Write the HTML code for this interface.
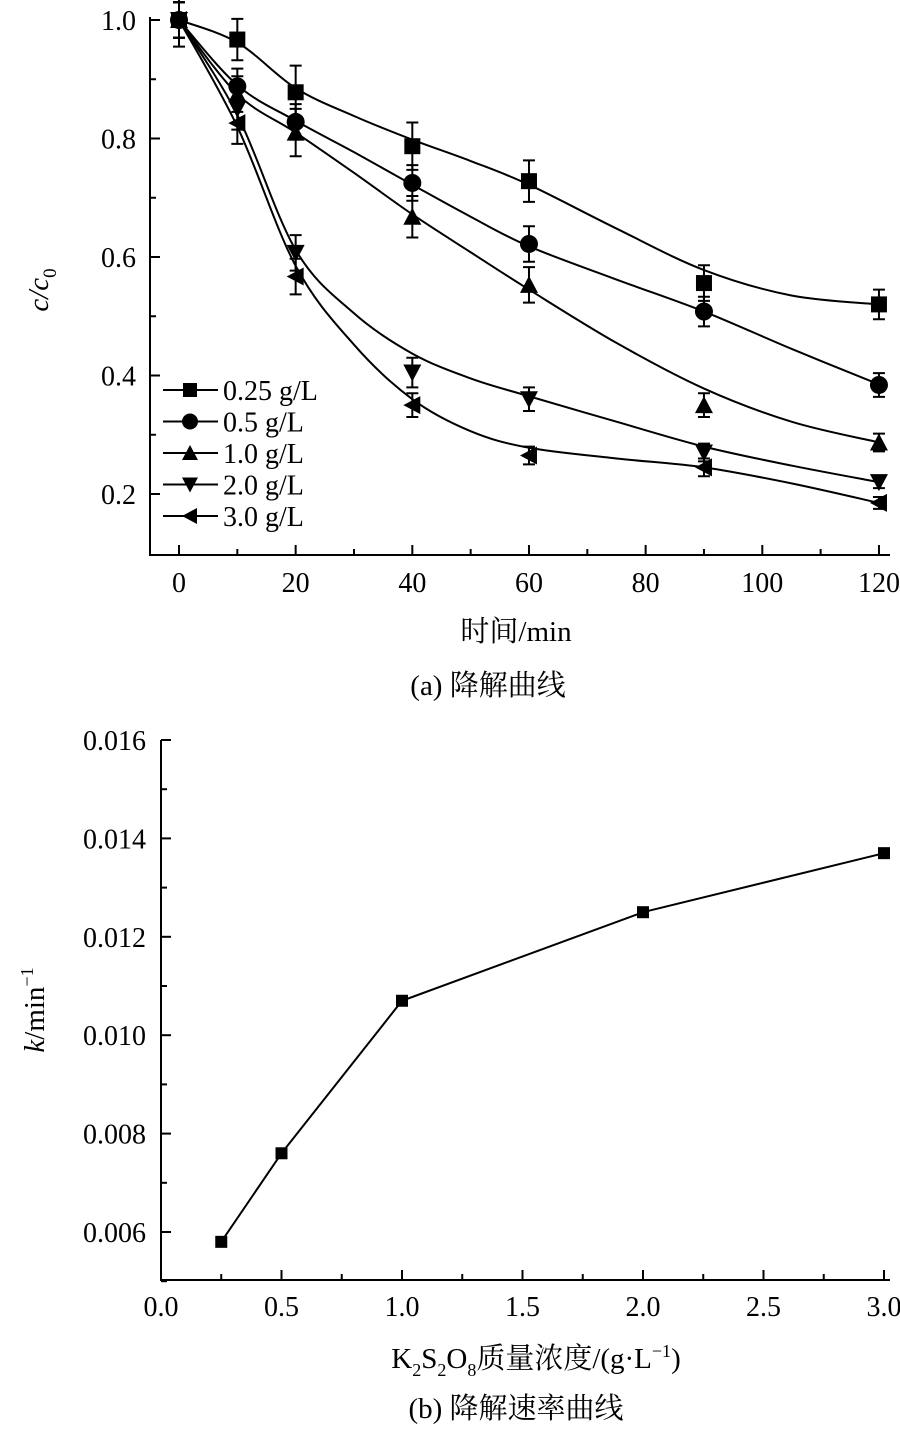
<!DOCTYPE html>
<html><head><meta charset="utf-8"><style>
html,body{margin:0;padding:0;background:#fff;}
svg{display:block;font-family:"Liberation Serif","Noto Serif CJK SC",serif;}
</style></head><body>
<svg id="s" width="900" height="1436" viewBox="0 0 900 1436" xmlns="http://www.w3.org/2000/svg">
<g id="g" stroke="#000" stroke-width="2" fill="none"></g>
<g id="t" fill="#000" font-size="28"></g>
<text x="48" y="290" font-size="29" font-style="italic" transform="rotate(-90 48 290)" text-anchor="middle">c/c<tspan font-style="normal" font-size="19" dy="8">0</tspan></text>
<text x="516" y="641" font-size="29" text-anchor="middle">时间/min</text>
<text x="488" y="695" font-size="29" text-anchor="middle">(a) 降解曲线</text>
<text x="44" y="1010" font-size="29" transform="rotate(-90 44 1010)" text-anchor="middle"><tspan font-style="italic">k</tspan>/min<tspan font-size="18" dy="-11">−1</tspan></text>
<text x="536" y="1368" font-size="29" text-anchor="middle">K<tspan font-size="18" dy="8">2</tspan><tspan dy="-8">S</tspan><tspan font-size="18" dy="8">2</tspan><tspan dy="-8">O</tspan><tspan font-size="18" dy="8">8</tspan><tspan dy="-8">质量浓度/(g·L</tspan><tspan font-size="18" dy="-11">−1</tspan><tspan dy="11">)</tspan></text>
<text x="516" y="1418" font-size="29" text-anchor="middle">(b) 降解速率曲线</text>
</svg>
<script>
const g=document.getElementById('g'),T=document.getElementById('t');
const NS='http://www.w3.org/2000/svg';
function el(p,tag,a){const e=document.createElementNS(NS,tag);for(const k in a)e.setAttribute(k,a[k]);p.appendChild(e);return e;}
function txt(x,y,s,anchor){const e=el(T,'text',{x:x,y:y,'text-anchor':anchor||'middle'});e.textContent=s;}
const X=t=>179+t*5.833, Y=v=>20+(1-v)*592.5;
el(g,'path',{d:`M150 17V555H890`});
for(let t=0;t<=120;t+=10){el(g,'line',{x1:X(t),x2:X(t),y1:555,y2:t%20?549:545});if(t%20==0)txt(X(t),592,t);}
for(let v=0.2;v<=1.001;v+=0.1){el(g,'line',{x1:150,x2:Math.round(v*10)%2?156:160,y1:Y(v),y2:Y(v)});if(Math.round(v*10)%2==0)txt(136,Y(v)+10,v.toFixed(1),'end');}
const ts=[0,10,20,40,60,90,120];
const D=[[1,.967,.878,.787,.728,.556,.52],[1,.888,.828,.725,.622,.508,.384],[1,.875,.81,.668,.553,.35,.287],[1,.85,.607,.405,.36,.27,.22],[1,.826,.567,.35,.265,.245,.185]];
const E=[[.045,.035,.045,.04,.035,.03,.025],[.03,.03,.03,.03,.03,.025,.02],[.03,.03,.04,.035,.03,.02,.015],[.03,.035,.03,.025,.02,.015,.01],[.03,.035,.03,.02,.015,.015,.01]];
const C=[
[[0,1],[10,.962],[20,.885],[30,.838],[40,.798],[50,.762],[60,.722],[75,.648],[90,.578],[105,.535],[120,.52]],
[[0,1],[10,.89],[20,.83],[30,.777],[40,.722],[50,.668],[60,.618],[75,.562],[90,.508],[105,.445],[120,.385]],
[[0,1],[10,.875],[20,.81],[30,.742],[40,.672],[50,.608],[60,.545],[75,.455],[90,.378],[105,.322],[120,.287]],
[[0,1],[10,.84],[20,.612],[30,.505],[40,.437],[50,.395],[60,.365],[75,.322],[90,.28],[105,.248],[120,.22]],
[[0,1],[10,.82],[20,.585],[30,.452],[40,.36],[50,.306],[60,.278],[75,.26],[90,.245],[105,.218],[120,.185]]];
function smooth(pts){let d=`M${pts[0][0]} ${pts[0][1]}`;for(let i=0;i<pts.length-1;i++){const p0=pts[i-1]||pts[i],p1=pts[i],p2=pts[i+1],p3=pts[i+2]||p2;const c1=[p1[0]+(p2[0]-p0[0])/6,p1[1]+(p2[1]-p0[1])/6],c2=[p2[0]-(p3[0]-p1[0])/6,p2[1]-(p3[1]-p1[1])/6];d+=`C${c1} ${c2} ${p2}`;}return d;}
function marker(k,x,y,s){s=s||8;const a={fill:'#000',stroke:'none'};
 if(k==0)el(g,'rect',Object.assign({x:x-s,y:y-s,width:2*s,height:2*s},a));
 else if(k==1)el(g,'circle',Object.assign({cx:x,cy:y,r:s+1},a));
 else if(k==2)el(g,'polygon',Object.assign({points:`${x-s-1},${y+s} ${x+s+1},${y+s} ${x},${y-s-1}`},a));
 else if(k==3)el(g,'polygon',Object.assign({points:`${x-s-1},${y-s} ${x+s+1},${y-s} ${x},${y+s+1}`},a));
 else el(g,'polygon',Object.assign({points:`${x+s},${y-s-1} ${x+s},${y+s+1} ${x-s-1},${y}`},a));}
D.forEach((d,k)=>{el(g,'path',{d:smooth(C[k].map(p=>[X(p[0]),Y(p[1])]))});
 d.forEach((v,i)=>{const x=X(ts[i]),e=E[k][i];el(g,'path',{d:`M${x} ${Y(v+e)}V${Y(v-e)}M${x-6} ${Y(v+e)}h12M${x-6} ${Y(v-e)}h12`});marker(k,x,Y(v));});});
const labs=['0.25 g/L','0.5 g/L','1.0 g/L','2.0 g/L','3.0 g/L'];
labs.forEach((s,k)=>{const y=390+k*31.5;el(g,'line',{x1:163,x2:218,y1:y,y2:y});marker(k,190,y,7);txt(223,y+10,s,'start');});
const BX=c=>161+c*241, BY=v=>1232-(v-0.006)*49200;
el(g,'path',{d:`M161 740V1280H890`});
for(let i=0;i<=12;i++){const c=i*0.25,x=BX(c);el(g,'line',{x1:x,x2:x,y1:1280,y2:i%2?1274:1270});if(i%2==0)txt(x,1316,c.toFixed(1));}
for(let i=5;i<=16;i++){const v=i/1000,y=BY(v);el(g,'line',{x1:161,x2:i%2?167:171,y1:y,y2:y});if(i%2==0&&i>=6)txt(146,y+10,v.toFixed(3),'end');}
const B=[[0.25,.0058],[0.5,.0076],[1,.0107],[2,.0125],[3,.0137]];
el(g,'polyline',{points:B.map(p=>[BX(p[0]),BY(p[1])].join(',')).join(' ')});
B.forEach(p=>marker(0,BX(p[0]),BY(p[1]),6));
</script>
</body></html>
